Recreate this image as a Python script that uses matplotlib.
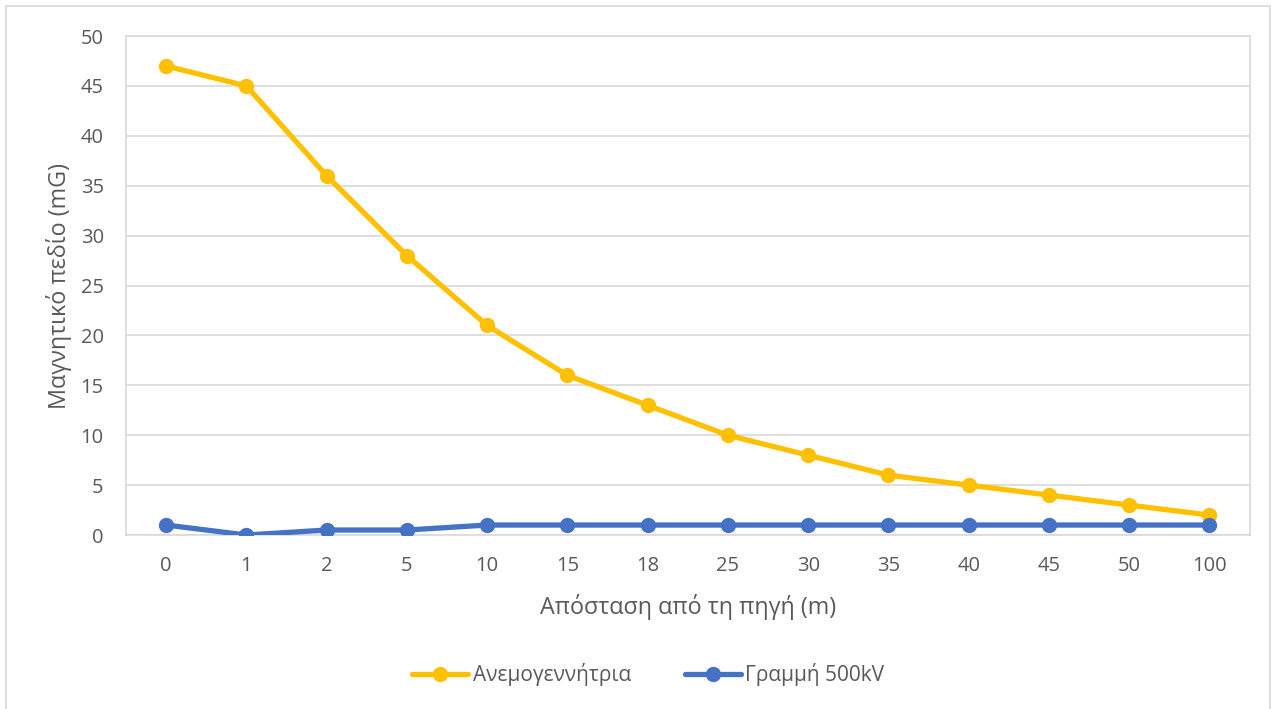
import numpy as np
import matplotlib.pyplot as plt
from matplotlib.patches import Rectangle

plt.rcParams['font.family'] = ['Open Sans', 'DejaVu Sans']

distances = ['0', '1', '2', '5', '10', '15', '18', '25', '30', '35', '40', '45', '50', '100']
wind_turbine = [47, 45, 36, 28, 21, 16, 13, 10, 8, 6, 5, 4, 3, 2]
line_500kv = [1, 0, 0.5, 0.5, 1, 1, 1, 1, 1, 1, 1, 1, 1, 1]

text_color = '#595959'
grid_color = '#d9d9d9'

fig = plt.figure(figsize=(12.76, 7.09), dpi=100)
ax = fig.add_axes([0.0987, 0.2454, 0.8806, 0.7038])

x = np.arange(len(distances))
ax.plot(x, wind_turbine, color='#ffc000', lw=3.8, marker='o', ms=10,
        label='Ανεμογεννήτρια', solid_capstyle='round', zorder=3)
ax.plot(x, line_500kv, color='#4472c4', lw=3.8, marker='o', ms=10,
        label='Γραμμή 500kV', solid_capstyle='round', zorder=3)

ax.set_xlim(-0.5, len(distances) - 0.5)
ax.set_ylim(0, 50)
ax.set_yticks(np.arange(0, 51, 5))
ax.set_xticks(x, distances)
ax.yaxis.grid(True, color=grid_color, lw=1.2)
ax.set_axisbelow(True)
ax.tick_params(length=0, labelsize=14.5, colors=text_color)
ax.tick_params(axis='x', pad=15)
ax.tick_params(axis='y', pad=16)
for s in ax.spines.values():
    s.set_color(grid_color)
    s.set_linewidth(1.2)

ax.set_xlabel('Απόσταση από τη πηγή (m)', fontsize=16.8, color=text_color, labelpad=13)
ax.set_ylabel('Μαγνητικό πεδίο (mG)', fontsize=16.8, color=text_color, labelpad=6)

ax.legend(loc='lower center', bbox_to_anchor=(0.465, -0.34), ncol=2, frameon=False,
          fontsize=15, labelcolor=text_color, handlelength=2.7, columnspacing=2.6,
          handletextpad=0.2)

fig.patches.append(Rectangle((0.0047, -0.01), 0.9906, 1.0015, transform=fig.transFigure,
                             fill=False, edgecolor=grid_color, lw=1.2))

fig.savefig('out.png')
